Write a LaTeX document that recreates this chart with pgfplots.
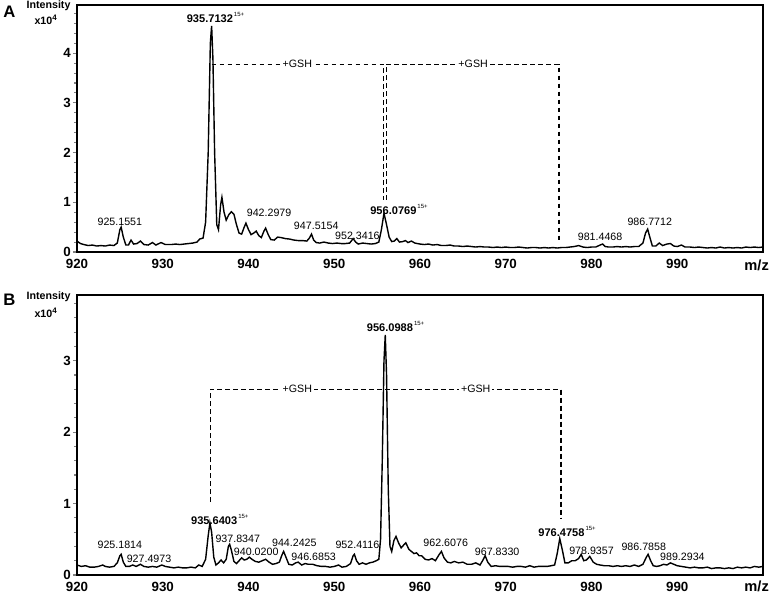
\documentclass[border=0pt]{standalone}
\usepackage{pgfplots}
\pgfplotsset{compat=1.18}
\usepackage{fontspec}
\setmainfont{Liberation Sans}

% spectra, intensity in units of 10^4
\pgfplotstableread{
x y
920.0 0.22
920.4 0.17
920.8 0.15
921.3 0.13
921.8 0.14
922.3 0.12
922.8 0.13
923.3 0.12
923.8 0.14
924.3 0.13
924.7 0.18
925.0 0.45
925.15 0.50
925.4 0.30
925.7 0.14
926.0 0.14
926.3 0.24
926.6 0.16
927.0 0.17
927.4 0.22
927.8 0.15
928.3 0.14
928.8 0.19
929.2 0.14
929.8 0.19
930.3 0.15
931.0 0.15
931.5 0.16
932.0 0.15
932.5 0.16
933.0 0.17
933.5 0.18
934.0 0.20
934.3 0.26
934.7 0.28
935.0 0.60
935.3 2.00
935.55 4.20
935.7 4.55
935.85 3.90
936.05 2.00
936.3 0.55
936.5 0.45
936.75 0.95
936.9 1.10
937.15 0.80
937.4 0.64
937.7 0.75
938.0 0.81
938.3 0.76
938.6 0.55
938.9 0.38
939.2 0.36
939.5 0.50
939.7 0.58
940.0 0.45
940.3 0.35
940.6 0.38
940.9 0.42
941.2 0.33
941.5 0.29
941.8 0.42
942.0 0.48
942.3 0.35
942.6 0.25
943.0 0.24
943.4 0.30
943.8 0.29
944.3 0.27
944.8 0.26
945.3 0.24
945.8 0.23
946.3 0.23
946.8 0.22
947.1 0.28
947.35 0.36
947.6 0.24
947.9 0.19
948.3 0.18
948.8 0.20
949.3 0.18
949.8 0.17
950.3 0.18
950.8 0.17
951.3 0.17
951.8 0.18
952.2 0.27
952.5 0.20
952.8 0.16
953.3 0.18
953.8 0.17
954.3 0.16
954.8 0.17
955.2 0.20
955.5 0.45
955.8 0.78
956.1 0.55
956.4 0.30
956.7 0.21
957.0 0.22
957.3 0.27
957.6 0.20
958.0 0.21
958.3 0.23
958.6 0.19
959.0 0.22
959.4 0.18
960.0 0.16
960.5 0.15
961.0 0.16
961.5 0.14
962.0 0.15
962.5 0.13
963.0 0.13
963.5 0.14
964.0 0.12
964.5 0.12
965.0 0.11
965.5 0.12
966.0 0.11
966.5 0.10
967.0 0.11
967.5 0.10
968.0 0.10
968.5 0.09
969.0 0.10
969.5 0.09
970.0 0.10
970.5 0.09
971.0 0.09
971.5 0.10
972.0 0.09
972.5 0.08
973.0 0.09
973.5 0.09
974.0 0.08
974.5 0.09
975.0 0.08
975.5 0.09
976.0 0.08
976.5 0.09
977.0 0.09
977.5 0.10
978.0 0.11
978.5 0.13
979.0 0.10
979.5 0.09
980.0 0.10
980.5 0.10
981.0 0.14
981.3 0.16
981.6 0.11
982.0 0.10
982.5 0.10
983.0 0.11
983.5 0.10
984.0 0.11
984.5 0.10
985.0 0.11
985.5 0.11
986.0 0.18
986.3 0.38
986.55 0.46
986.8 0.30
987.1 0.12
987.5 0.12
987.9 0.18
988.3 0.13
988.8 0.16
989.2 0.17
989.6 0.12
990.0 0.11
990.5 0.14
990.9 0.10
991.5 0.10
992.0 0.09
992.5 0.10
993.0 0.09
993.5 0.08
994.0 0.09
994.5 0.08
995.0 0.10
995.5 0.08
996.0 0.09
996.5 0.08
997.0 0.09
997.5 0.08
998.0 0.10
998.5 0.09
999.0 0.10
999.5 0.09
1000.0 0.10
}\specA

\pgfplotstableread{
x y
920.0 0.14
920.5 0.12
921.0 0.13
921.5 0.11
922.0 0.11
922.5 0.12
923.0 0.14
923.3 0.12
923.8 0.11
924.3 0.12
924.7 0.17
925.0 0.27
925.15 0.29
925.4 0.18
925.7 0.12
926.1 0.12
926.5 0.14
926.9 0.12
927.4 0.15
927.8 0.12
928.3 0.11
928.8 0.12
929.3 0.11
929.9 0.14
930.3 0.12
930.8 0.11
931.3 0.10
931.8 0.11
932.3 0.10
932.8 0.10
933.3 0.11
933.8 0.10
934.2 0.14
934.6 0.12
935.0 0.22
935.3 0.55
935.5 0.73
935.7 0.60
935.95 0.25
936.2 0.14
936.5 0.17
936.8 0.21
937.1 0.17
937.4 0.22
937.65 0.40
937.8 0.43
938.0 0.35
938.3 0.19
938.6 0.16
938.9 0.20
939.2 0.24
939.5 0.21
939.8 0.22
940.1 0.25
940.4 0.22
940.8 0.19
941.2 0.18
941.6 0.20
942.0 0.22
942.4 0.18
942.8 0.15
943.2 0.16
943.6 0.18
943.9 0.28
944.1 0.33
944.4 0.24
944.7 0.15
945.1 0.14
945.5 0.17
945.8 0.18
946.2 0.14
946.6 0.16
947.0 0.15
947.5 0.15
948.0 0.13
948.5 0.12
949.0 0.12
949.5 0.11
950.0 0.12
950.5 0.14
950.9 0.11
951.4 0.12
951.9 0.16
952.2 0.27
952.35 0.29
952.6 0.20
952.9 0.15
953.3 0.17
953.7 0.15
954.1 0.17
954.5 0.18
954.9 0.20
955.2 0.22
955.4 0.50
955.6 1.60
955.8 3.00
955.95 3.36
956.1 2.80
956.3 1.20
956.5 0.40
956.7 0.33
956.95 0.48
957.2 0.54
957.5 0.45
957.8 0.38
958.1 0.42
958.35 0.45
958.7 0.36
959.0 0.33
959.3 0.30
959.6 0.31
959.9 0.27
960.2 0.27
960.6 0.22
961.0 0.21
961.4 0.23
961.8 0.20
962.2 0.28
962.5 0.33
962.8 0.24
963.2 0.18
963.6 0.17
964.0 0.19
964.5 0.17
965.0 0.18
965.5 0.15
966.0 0.15
966.5 0.17
967.0 0.14
967.3 0.20
967.6 0.27
967.9 0.18
968.3 0.12
968.8 0.13
969.3 0.12
969.8 0.12
970.3 0.12
970.8 0.11
971.3 0.12
971.8 0.12
972.3 0.11
972.8 0.13
973.3 0.11
973.8 0.12
974.3 0.12
974.8 0.12
975.3 0.13
975.7 0.14
976.0 0.30
976.3 0.51
976.6 0.35
976.9 0.17
977.3 0.17
977.7 0.20
978.1 0.20
978.5 0.23
978.8 0.29
979.1 0.20
979.4 0.21
979.8 0.26
980.2 0.18
980.6 0.15
981.0 0.14
981.5 0.13
982.0 0.13
982.5 0.12
983.0 0.13
983.5 0.12
984.0 0.13
984.5 0.12
985.0 0.14
985.5 0.12
986.0 0.15
986.4 0.25
986.6 0.29
986.9 0.20
987.2 0.13
987.6 0.12
988.0 0.13
988.4 0.15
988.8 0.14
989.2 0.17
989.6 0.15
990.0 0.13
990.5 0.12
991.0 0.11
991.5 0.10
992.0 0.11
992.5 0.10
993.0 0.10
993.5 0.11
994.0 0.09
994.5 0.10
995.0 0.10
995.5 0.09
996.0 0.10
996.5 0.09
997.0 0.11
997.5 0.10
998.0 0.11
998.5 0.10
999.0 0.12
999.5 0.11
1000.0 0.12
}\specB

\newcommand{\lab}[3]{\node[font=\fontsize{8}{9}\selectfont] at (axis cs:#1,#2) {#3};}
\newcommand{\blab}[3]{\node[font=\fontsize{8.3}{9}\selectfont\bfseries] at (axis cs:#1,#2) {#3\rlap{\raisebox{1.1ex}{\fontsize{4.5}{5}\selectfont\mdseries\,15+}}};}
\newcommand{\gsh}[2]{\node[fill=white,inner sep=1.5pt,font=\fontsize{8}{9}\selectfont] at (axis cs:#1,#2) {+GSH};}

\pgfplotsset{ms/.style={
    scale only axis, width=514.5pt,
    xmin=920, xmax=1000, ymin=0, clip=false,
    axis line style={line width=1.1pt},
    xtick={920,930,...,990},
    major x tick style={draw=none},
    ytick distance=1, minor y tick num=4,
    tick align=outside, major tick length=3pt, minor tick length=2pt,
    xtick pos=lower, ytick pos=left,
    y tick style={line width=0.8pt},
    ticklabel style={font=\fontsize{10}{12}\selectfont\bfseries},
    xticklabel style={yshift=-1.5pt, inner sep=1pt},
    yticklabel style={xshift=-1pt, inner sep=0.5pt},
    /pgf/number format/assume math mode=true,
  },
  spec/.style={black, line width=1.05pt, no marks},
  br/.style={black, line width=0.9pt, dash pattern=on 3.6pt off 2.4pt, no marks},
}

\begin{document}
\begin{tikzpicture}
\path[use as bounding box] (0,0) rectangle (580.5pt,445.5pt);

% panel A
\begin{axis}[ms, at={(57.75pt,256.5pt)}, anchor=south west,
    height=185.25pt, ymax=4.97]
\addplot[spec] table[x=x,y=y] {\specA};
\addplot[br] coordinates {(935.7,3.78) (955.72,3.78) (955.72,1.05)};
\addplot[br] coordinates {(956.05,1.05) (956.05,3.78) (976.2,3.78) (976.2,0.2)};
\gsh{945.7}{3.78}
\gsh{966.2}{3.78}
\blab{935.5}{4.72}{935.7132}
\blab{956.9}{0.86}{956.0769}
\lab{925.0}{0.61}{925.1551}
\lab{942.4}{0.78}{942.2979}
\lab{947.9}{0.53}{947.5154}
\lab{952.7}{0.32}{952.3416}
\lab{981.0}{0.30}{981.4468}
\lab{986.8}{0.61}{986.7712}
\end{axis}

% panel B
\begin{axis}[ms, at={(57.75pt,14.25pt)}, anchor=south west,
    height=210pt, ymax=3.92]
\addplot[spec] table[x=x,y=y] {\specB};
\addplot[br] coordinates {(935.55,1.02) (935.55,2.6) (976.45,2.6) (976.45,0.8)};
\gsh{945.7}{2.6}
\gsh{966.5}{2.6}
\blab{956.5}{3.48}{956.0988}
\blab{936.0}{0.78}{935.6403}
\blab{976.5}{0.61}{976.4758}
\lab{925.0}{0.42}{925.1814}
\lab{928.4}{0.22}{927.4973}
\lab{938.75}{0.51}{937.8347}
\lab{940.9}{0.32}{940.0200}
\lab{945.35}{0.45}{944.2425}
\lab{947.6}{0.26}{946.6853}
\lab{952.7}{0.42}{952.4116}
\lab{963.0}{0.45}{962.6076}
\lab{969.0}{0.33}{967.8330}
\lab{980.0}{0.34}{978.9357}
\lab{986.1}{0.40}{986.7858}
\lab{990.6}{0.26}{989.2934}
\end{axis}

% panel letters and axis captions
\node[font=\fontsize{12.5}{14}\selectfont\bfseries] at (7pt,436.5pt) {A};
\node[font=\fontsize{8}{9}\selectfont\bfseries] at (36.4pt,441pt) {Intensity};
\node[font=\fontsize{8}{9}\selectfont\bfseries] at (34.5pt,430.5pt) {x10\textsuperscript{4}};
\node[font=\fontsize{11}{12}\selectfont\bfseries] at (567.5pt,246.75pt) {m/z};

\node[font=\fontsize{12.5}{14}\selectfont\bfseries] at (7pt,221pt) {B};
\node[font=\fontsize{8}{9}\selectfont\bfseries] at (36.4pt,222.75pt) {Intensity};
\node[font=\fontsize{8}{9}\selectfont\bfseries] at (34.5pt,210.75pt) {x10\textsuperscript{4}};
\node[font=\fontsize{11}{12}\selectfont\bfseries] at (567.5pt,5.5pt) {m/z};
\end{tikzpicture}
\end{document}
